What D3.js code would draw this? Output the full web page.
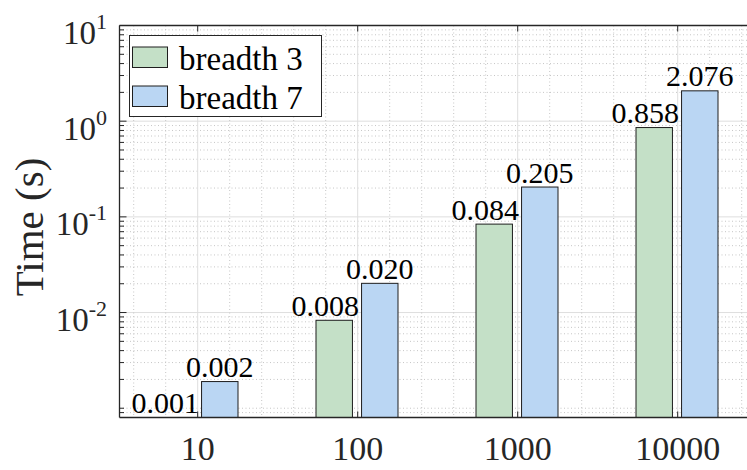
<!DOCTYPE html>
<html><head><meta charset="utf-8"><script src="https://cdn.jsdelivr.net/npm/d3@7"></script></head>
<body style="margin:0">
<svg id="chart" width="747" height="470" style="display:block"></svg>
<script>
// Run time per problem size, for two tree breadths
const categories = ["10", "100", "1000", "10000"];
const seriesNames = ["breadth 3", "breadth 7"];
const breadth3 = [0.0008, 0.0083, 0.084, 0.858];
const breadth7 = [0.0019, 0.0202, 0.205, 2.076];
const seriesColors = ["#c4e0c7", "#bad6f3"];
const labelShift = [-9, 0];
const yMajorTicks = [1e-2, 1e-1, 1, 10];
const yMajorExponents = ["-2", "-1", "0", "1"];
const yDomain = [0.0008, 10];

const FONT = "Liberation Serif";
const svg = d3.select("#chart");
const W = 747, H = 470;
const plot = { left: 119.5, top: 25.5, bottom: 417.5, right: 760 };

const x = d3.scaleBand().domain(categories).range([117.7, 757.7]).padding(0);
const xSub = d3.scaleBand().domain(seriesNames).range([38.3, 120.3]).paddingInner(0.2);
const y = d3.scaleLog().domain(yDomain).range([plot.bottom, plot.top]);

const axisColor = "#262626";
const rows = categories.map((c, i) => ({ cat: c, values: [breadth3[i], breadth7[i]] }));

function addText(parent) {
  return parent.append("text").attr("font-family", FONT).style("font-family", FONT);
}

// clip region for grid lines and bars
svg.append("defs").append("clipPath").attr("id", "plotClip")
  .append("rect").attr("x", plot.left).attr("y", plot.top)
  .attr("width", plot.right - plot.left).attr("height", plot.bottom - plot.top);

const grid = svg.append("g").attr("clip-path", "url(#plotClip)");

// horizontal grid: minor (dotted) and decades (solid)
const allY = y.ticks().filter(v => v > yDomain[0] * 1.0001 && v < yDomain[1] * 0.9999);
const isMajorY = v => yMajorTicks.some(t => Math.abs(Math.log10(v) - Math.log10(t)) < 1e-6);
grid.selectAll("line.yminor").data(allY.filter(v => !isMajorY(v))).join("line")
  .attr("x1", plot.left).attr("x2", plot.right)
  .attr("y1", d => y(d)).attr("y2", d => y(d))
  .attr("stroke", "#c6c6c6").attr("stroke-width", 1).attr("stroke-dasharray", "1,2.5");
grid.selectAll("line.ymajor").data(yMajorTicks).join("line")
  .attr("x1", plot.left).attr("x2", plot.right)
  .attr("y1", d => y(d)).attr("y2", d => y(d))
  .attr("stroke", "#dedede").attr("stroke-width", 1);

// vertical grid: minor every fifth of a category step, major at categories
const step = x.step();
const xCenter = c => x(c) + x.bandwidth() / 2;
const xMinor = [];
categories.forEach(c => [-2, -1, 1, 2].forEach(k => xMinor.push(xCenter(c) + k * step / 5)));
grid.selectAll("line.xminor").data(xMinor).join("line")
  .attr("x1", d => d).attr("x2", d => d)
  .attr("y1", plot.top).attr("y2", plot.bottom)
  .attr("stroke", "#c6c6c6").attr("stroke-width", 1).attr("stroke-dasharray", "1,2.5");
grid.selectAll("line.xmajor").data(categories).join("line")
  .attr("x1", d => xCenter(d)).attr("x2", d => xCenter(d))
  .attr("y1", plot.top).attr("y2", plot.bottom)
  .attr("stroke", "#dedede").attr("stroke-width", 1);

// bars
const bars = svg.append("g").attr("clip-path", "url(#plotClip)");
const groups = bars.selectAll("g.grp").data(rows).join("g")
  .attr("transform", d => `translate(${x(d.cat)},0)`);
groups.selectAll("rect").data(d => d.values.map((v, j) => ({ v, s: seriesNames[j], j })))
  .join("rect")
  .attr("x", d => xSub(d.s))
  .attr("width", xSub.bandwidth())
  .attr("y", d => y(Math.max(d.v, yDomain[0])))
  .attr("height", d => plot.bottom - y(Math.max(d.v, yDomain[0])))
  .attr("fill", d => seriesColors[d.j])
  .attr("stroke", "#1e1e1e").attr("stroke-width", 1);

// value labels above bars
const fmt = d3.format(".3f");
const labels = svg.append("g");
rows.forEach(r => {
  r.values.forEach((v, j) => {
    addText(labels)
      .attr("x", x(r.cat) + xSub(seriesNames[j]) + xSub.bandwidth() / 2 + labelShift[j])
      .attr("y", y(Math.max(v, yDomain[0])) - 4.5)
      .attr("text-anchor", "middle")
      .attr("font-size", 30)
      .attr("fill", "#000")
      .text(fmt(v));
  });
});

// axes box lines
const axes = svg.append("g");
axes.append("line").attr("x1", plot.left).attr("x2", plot.left)
  .attr("y1", plot.top).attr("y2", plot.bottom)
  .attr("stroke", axisColor).attr("stroke-width", 1.3);
axes.append("line").attr("x1", plot.left).attr("x2", W)
  .attr("y1", plot.bottom).attr("y2", plot.bottom)
  .attr("stroke", axisColor).attr("stroke-width", 1.3);
axes.append("line").attr("x1", plot.left).attr("x2", W)
  .attr("y1", plot.top).attr("y2", plot.top)
  .attr("stroke", axisColor).attr("stroke-width", 1.3);

// y ticks (inward)
axes.selectAll("line.ytick").data(allY.concat([yDomain[1]])).join("line")
  .attr("x1", plot.left).attr("x2", d => plot.left + (isMajorY(d) ? 7 : 4.5))
  .attr("y1", d => y(d)).attr("y2", d => y(d))
  .attr("stroke", axisColor).attr("stroke-width", 1);

// x ticks (inward, bottom and top)
categories.forEach(c => {
  axes.append("line").attr("x1", xCenter(c)).attr("x2", xCenter(c))
    .attr("y1", plot.bottom).attr("y2", plot.bottom - 6)
    .attr("stroke", axisColor).attr("stroke-width", 1);
  axes.append("line").attr("x1", xCenter(c)).attr("x2", xCenter(c))
    .attr("y1", plot.top).attr("y2", plot.top + 6)
    .attr("stroke", axisColor).attr("stroke-width", 1);
});

// x tick labels
const xl = svg.append("g");
categories.forEach(c => {
  addText(xl).attr("x", xCenter(c)).attr("y", 460)
    .attr("text-anchor", "middle")
    .attr("font-size", 34).attr("fill", axisColor)
    .text(c);
});

// y tick labels with superscript exponents
const yl = svg.append("g");
yMajorTicks.forEach((t, i) => {
  const txt = addText(yl)
    .attr("x", 107).attr("y", y(t) + 18.5)
    .attr("text-anchor", "end")
    .attr("fill", axisColor);
  txt.append("tspan").attr("font-size", 33).text("10");
  txt.append("tspan").attr("font-size", 22).attr("dy", -15).text(yMajorExponents[i]);
});

// y axis title
addText(svg)
  .attr("transform", "translate(43,227) rotate(-90)")
  .attr("text-anchor", "middle")
  .attr("font-size", 41).attr("fill", axisColor)
  .text("Time (s)");

// legend
const lg = svg.append("g");
lg.append("rect").attr("x", 129.5).attr("y", 35.5).attr("width", 192).attr("height", 81)
  .attr("fill", "#fff").attr("stroke", axisColor).attr("stroke-width", 1);
seriesNames.forEach((s, i) => {
  lg.append("rect").attr("x", 132.5).attr("y", 47 + i * 39).attr("width", 35).attr("height", 20.5)
    .attr("fill", seriesColors[i]).attr("stroke", "#1e1e1e").attr("stroke-width", 1);
  addText(lg).attr("x", 179).attr("y", 70 + i * 39)
    .attr("font-size", 33).attr("fill", "#000").text(s);
});
</script>
</body>
</html>
